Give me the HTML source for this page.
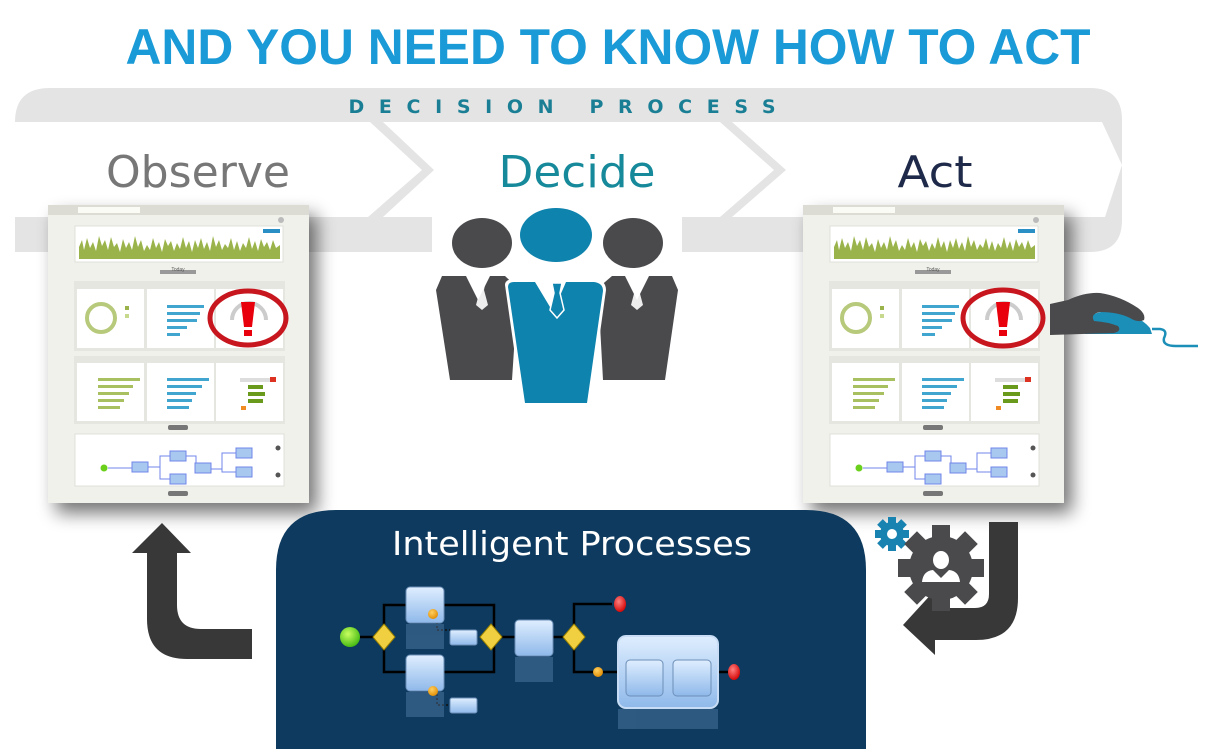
<!DOCTYPE html>
<html><head><meta charset="utf-8"><style>
html,body{margin:0;padding:0;background:#fff;}
svg{display:block;}
</style></head><body>
<svg width="1208" height="749" viewBox="0 0 1208 749" xmlns="http://www.w3.org/2000/svg">
<defs>
<filter id="sh" x="-20%" y="-10%" width="150%" height="130%"><feGaussianBlur in="SourceAlpha" stdDeviation="9"/><feOffset dx="8" dy="10"/><feComponentTransfer><feFuncA type="linear" slope="0.55"/></feComponentTransfer><feMerge><feMergeNode/><feMergeNode in="SourceGraphic"/></feMerge></filter>
<linearGradient id="bx" x1="0" y1="0" x2="0" y2="1"><stop offset="0" stop-color="#dfeeff"/><stop offset="1" stop-color="#8fb9ea"/></linearGradient>
<radialGradient id="gr" cx="0.4" cy="0.35" r="0.7"><stop offset="0" stop-color="#c8ff60"/><stop offset="1" stop-color="#3fb70f"/></radialGradient>
<radialGradient id="rd" cx="0.4" cy="0.35" r="0.7"><stop offset="0" stop-color="#ff8080"/><stop offset="1" stop-color="#d20000"/></radialGradient>
<radialGradient id="or" cx="0.4" cy="0.35" r="0.7"><stop offset="0" stop-color="#ffd060"/><stop offset="1" stop-color="#e08a00"/></radialGradient>
<g id="scr">
  <rect x="48" y="205" width="261" height="298" fill="#f1f1ec"/>
  <rect x="48" y="205" width="261" height="10" fill="#dcdcd4"/>
  <rect x="78" y="207" width="62" height="6" fill="#fbfbf6"/>
  <circle cx="281" cy="220" r="3" fill="#bbb"/>
  <rect x="75" y="226" width="208" height="36" fill="#fff" stroke="#e0e0da"/>
  <path d="M79 259 L79 247 L82 240 L84 250 L87 238 L90 248 L93 242 L96 251 L99 236 L102 246 L105 240 L108 250 L111 237 L114 247 L117 243 L120 252 L123 239 L126 248 L129 242 L132 250 L135 236 L138 247 L141 240 L144 251 L147 245 L150 250 L153 238 L156 248 L159 242 L162 252 L165 239 L168 246 L171 241 L174 251 L177 243 L180 249 L183 237 L186 248 L189 241 L192 252 L195 240 L198 248 L201 238 L204 249 L207 242 L210 251 L213 236 L216 247 L219 240 L222 250 L225 244 L228 248 L231 238 L234 250 L237 241 L240 251 L243 243 L246 248 L249 237 L252 249 L255 241 L258 251 L261 239 L264 247 L267 242 L270 250 L273 240 L276 248 L280 245 L280 259 Z" fill="#9ab44c"/>
  <rect x="263" y="229" width="17" height="4" fill="#2b8fc4"/>
  <rect x="160" y="270" width="36" height="4" fill="#999"/>
  <rect x="74" y="281" width="211" height="70" fill="#e6e6e0"/>
  <rect x="77" y="289" width="67" height="59" fill="#fff"/>
  <rect x="147" y="289" width="67" height="59" fill="#fff"/>
  <rect x="216" y="289" width="67" height="59" fill="#fff"/>
  <circle cx="101" cy="318" r="14" fill="none" stroke="#b7c97a" stroke-width="4"/>
  <rect x="125" y="306" width="4" height="4" fill="#9ab44c"/><rect x="125" y="314" width="4" height="4" fill="#c7d98d"/>
  <rect x="167" y="305" width="37" height="3" fill="#3fa6cf"/><rect x="167" y="312" width="33" height="3" fill="#3fa6cf"/><rect x="167" y="319" width="30" height="3" fill="#3fa6cf"/><rect x="167" y="326" width="20" height="3" fill="#3fa6cf"/><rect x="167" y="333" width="13" height="3" fill="#3fa6cf"/>
  <path d="M232 320 A17 17 0 0 1 266 320" fill="none" stroke="#ccc" stroke-width="4"/>
  <rect x="74" y="356" width="211" height="68" fill="#e6e6e0"/>
  <rect x="77" y="363" width="67" height="58" fill="#fff"/><rect x="147" y="363" width="67" height="58" fill="#fff"/><rect x="216" y="363" width="67" height="58" fill="#fff"/>
  <rect x="98" y="378" width="42" height="3" fill="#a8c060"/><rect x="98" y="385" width="35" height="3" fill="#a8c060"/><rect x="98" y="392" width="31" height="3" fill="#a8c060"/><rect x="98" y="399" width="26" height="3" fill="#a8c060"/><rect x="98" y="406" width="22" height="3" fill="#a8c060"/>
  <rect x="167" y="378" width="42" height="3" fill="#3fa6cf"/><rect x="167" y="385" width="35" height="3" fill="#3fa6cf"/><rect x="167" y="392" width="29" height="3" fill="#3fa6cf"/><rect x="167" y="399" width="25" height="3" fill="#3fa6cf"/><rect x="167" y="406" width="22" height="3" fill="#3fa6cf"/>
  <rect x="240" y="378" width="35" height="4" fill="#ddd"/><rect x="270" y="377" width="6" height="5" fill="#d32"/>
  <rect x="248" y="385" width="15" height="4" fill="#6a9a1a"/><rect x="248" y="392" width="17" height="4" fill="#6a9a1a"/><rect x="248" y="399" width="15" height="4" fill="#6a9a1a"/><rect x="241" y="406" width="5" height="4" fill="#f08a20"/>
  <rect x="168" y="425" width="20" height="5" rx="2" fill="#777"/>
  <rect x="75" y="434" width="209" height="52" fill="#fff" stroke="#e0e0da"/>
  <circle cx="104" cy="468" r="3.5" fill="#6ad01c"/>
  <path d="M108 468 H133 M148 467 H160 V456 H170 M160 467 V479 H170 M186 456 H196 V469 H222 V453 H238 M222 469 V472 H238" stroke="#6f86e8" fill="none" stroke-width="1"/>
  <rect x="132" y="462" width="16" height="10" fill="#a8c8f0" stroke="#6f86e8"/>
  <rect x="170" y="451" width="16" height="10" fill="#a8c8f0" stroke="#6f86e8"/>
  <rect x="170" y="474" width="16" height="10" fill="#a8c8f0" stroke="#6f86e8"/>
  <rect x="195" y="463" width="16" height="10" fill="#a8c8f0" stroke="#6f86e8"/>
  <rect x="236" y="448" width="16" height="10" fill="#a8c8f0" stroke="#6f86e8"/>
  <rect x="236" y="467" width="16" height="10" fill="#a8c8f0" stroke="#6f86e8"/>
  <circle cx="278" cy="448" r="2.5" fill="#555"/><circle cx="278" cy="475" r="2.5" fill="#555"/>
  <rect x="168" y="491" width="20" height="5" rx="2" fill="#777"/>
</g>
</defs>

<text x="608" y="64" text-anchor="middle" font-family="Liberation Sans, sans-serif" font-weight="bold" font-size="50" fill="#1a9ad6" textLength="965" lengthAdjust="spacingAndGlyphs">AND YOU NEED TO KNOW HOW TO ACT</text>

<!-- banner -->
<path d="M50 88 H1090 Q1122 88 1122 120 V220 Q1122 252 1090 252 H15 V122 Q15 88 50 88 Z" fill="#e4e4e4"/>
<rect x="432" y="217" width="250" height="40" fill="#fff"/>
<path d="M15 122 H370 L422 170 L368 217 H15 Z" fill="#fff"/>
<path d="M383 122 H720 L774 170 L720 217 H383 L434 170 Z" fill="#fff"/>
<path d="M732 122 H1102 L1122 165 L1105 217 H732 L786 170 Z" fill="#fff"/>
<text x="562" y="113" text-anchor="middle" font-family="DejaVu Sans, sans-serif" font-weight="bold" font-size="19" fill="#1a7f95" textLength="427" lengthAdjust="spacing">DECISION PROCESS</text>
<text x="198" y="187" text-anchor="middle" font-family="DejaVu Sans, sans-serif" font-size="44" fill="#777" textLength="184" lengthAdjust="spacingAndGlyphs">Observe</text>
<text x="577" y="187" text-anchor="middle" font-family="DejaVu Sans, sans-serif" font-size="44" fill="#16899a" textLength="157" lengthAdjust="spacingAndGlyphs">Decide</text>
<text x="935" y="187" text-anchor="middle" font-family="DejaVu Sans, sans-serif" font-size="44" fill="#1f2a4a" textLength="75" lengthAdjust="spacingAndGlyphs">Act</text>

<!-- screenshots -->
<g filter="url(#sh)"><use href="#scr"/></g>
<g filter="url(#sh)"><use href="#scr" transform="translate(755,0)"/></g>
<text x="178" y="271" text-anchor="middle" font-family="Liberation Sans, sans-serif" font-size="5" fill="#555">Today</text>
<text x="933" y="271" text-anchor="middle" font-family="Liberation Sans, sans-serif" font-size="5" fill="#555">Today</text>
<g>
<ellipse cx="248" cy="318" rx="38" ry="27" fill="none" stroke="#c8161e" stroke-width="5"/>
<path d="M241 302 H255 L252 327 H244 Z" fill="#e8000c"/><rect x="244" y="330" width="8" height="6" fill="#e8000c"/>
<ellipse cx="1003" cy="318" rx="40" ry="28" fill="none" stroke="#c8161e" stroke-width="5"/>
<path d="M996 302 H1010 L1007 327 H999 Z" fill="#e8000c"/><rect x="999" y="330" width="8" height="6" fill="#e8000c"/>
</g>

<!-- hand + mouse -->
<path d="M1083 320 Q1100 308 1120 312 Q1140 316 1150 328 L1152 334 H1085 Q1078 328 1083 320 Z" fill="#1b8fb8"/>
<path d="M1152 329 H1160 Q1168 330 1164 338 Q1162 346 1176 346 H1198" fill="none" stroke="#1b8fb8" stroke-width="2.5"/>
<path d="M1050 304 L1068 300 Q1085 292 1100 293 Q1120 296 1138 308 Q1146 314 1144 320 Q1138 323 1130 318 Q1118 312 1100 312 Q1090 314 1094 321 Q1108 322 1118 326 Q1122 331 1114 333 L1050 335 Z" fill="#4a4a4d"/>

<!-- people -->
<ellipse cx="482" cy="243" rx="30" ry="25" fill="#4a4a4d"/>
<ellipse cx="633" cy="243" rx="30" ry="25" fill="#4a4a4d"/>
<path d="M442 276 H466 L478 300 L490 276 H505 L518 288 L512 380 H450 L436 290 Z" fill="#4a4a4d"/>
<path d="M612 276 H625 L637 300 L649 276 H672 L678 290 L665 380 H603 L598 288 Z" fill="#4a4a4d"/>
<path d="M478 280 H486 L484 290 L488 305 L482 310 L476 305 L480 290 Z" fill="#fff" opacity="0.9"/>
<path d="M633 280 H641 L639 290 L643 305 L637 310 L631 305 L635 290 Z" fill="#fff" opacity="0.9"/>
<ellipse cx="556" cy="235" rx="38" ry="29" fill="#fff"/>
<ellipse cx="556" cy="235" rx="36" ry="27" fill="#0e83ad"/>
<path d="M505 285 Q505 280 512 279 H536 L552 308 L566 279 H594 Q606 280 606 290 L590 405 H522 Z" fill="#fff"/>
<path d="M508 287 Q508 282 514 282 H535 L553 312 L566 282 H594 Q603 283 603 291 L587 403 H525 Z" fill="#0e83ad"/>
<path d="M552 283 H562 L560 293 L564 310 L557 318 L550 310 L554 293 Z" fill="#0e83ad" stroke="#fff" stroke-width="1.5"/>

<!-- left arrow -->
<path d="M162 523 L191 553 H177 V605 Q177 629 201 629 H252 V659 H187 Q147 659 147 619 V553 H132 Z" fill="#383838"/>
<!-- right arrow -->
<path d="M989 522 H1018 V598 Q1018 640 976 640 H935 V655 L903 625 L935 590 V608 H975 Q989 608 989 594 Z" fill="#383838"/>

<!-- gears -->
<g transform="translate(892,534)">
<circle r="12" fill="#1883b0"/>
<g fill="#1883b0"><rect x="-4" y="-17" width="8" height="34"/><rect x="-17" y="-4" width="34" height="8"/><rect x="-4" y="-17" width="8" height="34" transform="rotate(45)"/><rect x="-4" y="-17" width="8" height="34" transform="rotate(-45)"/></g>
<circle r="5" fill="#fff"/>
</g>
<g transform="translate(941,568)">
<circle r="32" fill="#4a4a4d"/>
<g fill="#4a4a4d"><rect x="-9" y="-43" width="18" height="86"/><rect x="-43" y="-9" width="86" height="18"/><rect x="-9" y="-43" width="18" height="86" transform="rotate(45)"/><rect x="-9" y="-43" width="18" height="86" transform="rotate(-45)"/></g>
<circle r="22" fill="#4a4a4d"/>
<ellipse cx="0" cy="-8" rx="8" ry="9" fill="#fff"/>
<path d="M-19 14 Q-18 3 -8 2 L0 10 L8 2 Q18 3 19 14 Z" fill="#fff"/>
</g>

<!-- intelligent processes panel -->
<path d="M276 749 V570 Q276 510 336 510 H806 Q866 510 866 570 V749 Z" fill="#0d3a5e"/>
<text x="572" y="555" text-anchor="middle" font-family="DejaVu Sans, sans-serif" font-size="33" fill="#fff" textLength="360" lengthAdjust="spacingAndGlyphs">Intelligent Processes</text>
<g stroke="#000" stroke-width="2.5" fill="none">
<path d="M358 637 H376 M384 629 V605 H406 M384 645 V672 H406 M444 605 H494 V629 M444 672 H494 V645 M499 637 H515 M553 637 H566 M574 629 V604 H612 M574 645 V672 H594 M602 672 H618 M718 672 H728 M663 672 H673"/>
</g>
<path d="M437 618 V630 H450 M437 694 V705 H450" stroke="#111" stroke-width="1.5" stroke-dasharray="2 2" fill="none"/>
<g opacity="0.25">
<rect x="406" y="624" width="38" height="25" fill="#8fb9ea"/><rect x="406" y="692" width="38" height="25" fill="#8fb9ea"/><rect x="515" y="657" width="38" height="25" fill="#8fb9ea"/><rect x="618" y="709" width="100" height="20" fill="#8fb9ea"/>
</g>
<circle cx="350" cy="637" r="10" fill="url(#gr)"/>
<g fill="#f0d040" stroke="#9a8000" stroke-width="1">
<path d="M384 624 L395 637 L384 650 L373 637 Z"/>
<path d="M491 624 L502 637 L491 650 L480 637 Z"/>
<path d="M574 624 L585 637 L574 650 L563 637 Z"/>
</g>
<g fill="url(#bx)" stroke="#6c8fb8" stroke-width="1">
<rect x="406" y="587" width="38" height="36" rx="4"/>
<rect x="406" y="655" width="38" height="36" rx="4"/>
<rect x="450" y="630" width="27" height="15" rx="2"/>
<rect x="450" y="698" width="27" height="15" rx="2"/>
<rect x="515" y="620" width="38" height="36" rx="4"/>
<rect x="618" y="636" width="100" height="72" rx="8" stroke="#c8ddf5" stroke-width="2"/>
<rect x="626" y="660" width="37" height="36" rx="4"/>
<rect x="673" y="660" width="38" height="36" rx="4"/>
</g>
<circle cx="433" cy="614" r="5" fill="url(#or)"/><circle cx="433" cy="691" r="5" fill="url(#or)"/><circle cx="598" cy="672" r="5" fill="url(#or)"/>
<ellipse cx="620" cy="604" rx="6" ry="8" fill="url(#rd)"/>
<ellipse cx="734" cy="672" rx="6" ry="8" fill="url(#rd)"/>
</svg>
</body></html>
